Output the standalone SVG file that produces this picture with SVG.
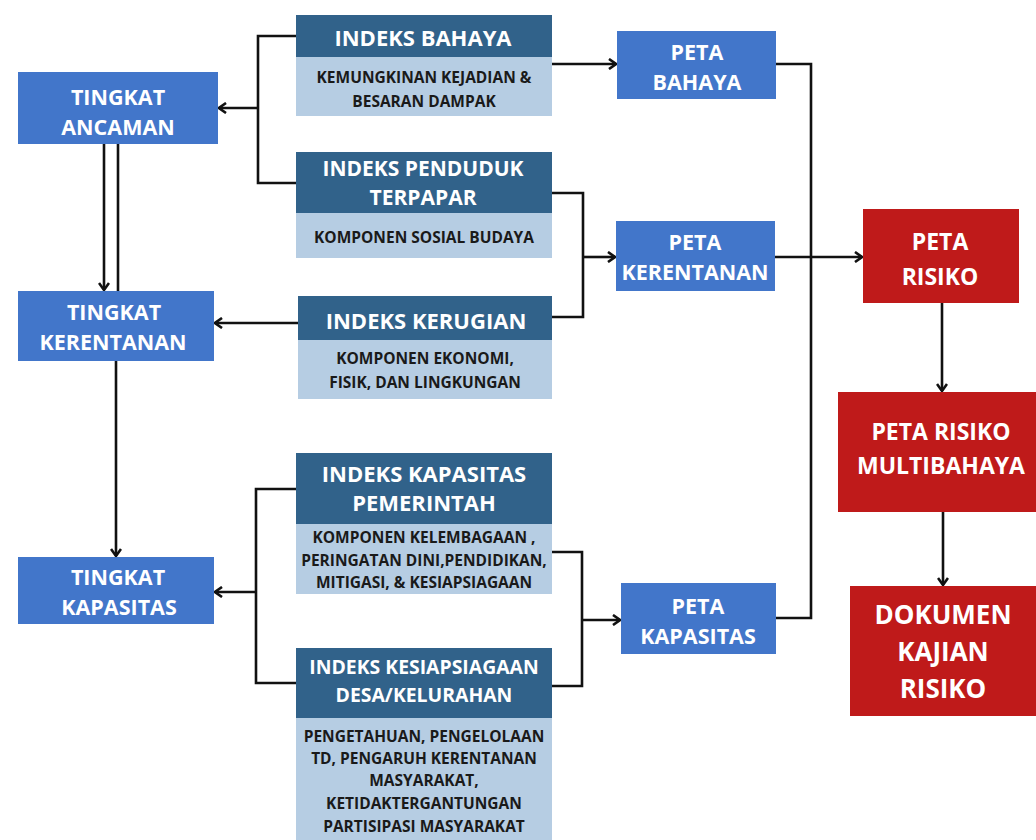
<svg xmlns="http://www.w3.org/2000/svg" width="1036" height="840" viewBox="0 0 1036 840">
<defs>
<marker id="ah" viewBox="0 0 10 12" refX="9" refY="6" markerWidth="10" markerHeight="12" markerUnits="userSpaceOnUse" orient="auto">
<path d="M2,1 L9,6 L2,11" fill="none" stroke="#111" stroke-width="2.6"/>
</marker>
<style>
text{font-family:"Open Sans","Liberation Sans",sans-serif;font-weight:700;text-anchor:middle;dominant-baseline:central}
.blue{fill:#4276CA}
.hdr{fill:#31628A}
.body{fill:#B6CDE3}
.red{fill:#BF1A1A}
.w{fill:#fff}
.t1{font-size:21.5px}
.th{font-size:22px}
.tr{font-size:23px}
.b{fill:#1a1a1a;font-size:15.5px}
.c{fill:none;stroke:#111;stroke-width:2.6}
</style>
</defs>
<rect width="1036" height="840" fill="#fff"/>
<g id="connectors">
<path class="c" d="M296,36 H258 V183 H296"/>
<path class="c" d="M258,108 H219" marker-end="url(#ah)"/>
<path class="c" d="M104,144 V290" marker-end="url(#ah)"/>
<path class="c" d="M118,144 V291"/>
<path class="c" d="M298,323 H215" marker-end="url(#ah)"/>
<path class="c" d="M116,361 V556" marker-end="url(#ah)"/>
<path class="c" d="M296,489 H256 V683 H296"/>
<path class="c" d="M256,592 H215" marker-end="url(#ah)"/>
<path class="c" d="M552,64 H616" marker-end="url(#ah)"/>
<path class="c" d="M552,193 H583 V317 H552"/>
<path class="c" d="M583,257 H615" marker-end="url(#ah)"/>
<path class="c" d="M552,552 H582 V686 H552"/>
<path class="c" d="M582,620 H620" marker-end="url(#ah)"/>
<path class="c" d="M776,64 H811 V618 H776"/>
<path class="c" d="M775,257 H862" marker-end="url(#ah)"/>
<path class="c" d="M942,303 V391" marker-end="url(#ah)"/>
<path class="c" d="M943,512 V585" marker-end="url(#ah)"/>
</g>
<g id="tingkat-ancaman">
<rect class="blue" x="18" y="72" width="200" height="72"/>
<text class="w t1" x="118" y="96">TINGKAT</text>
<text class="w t1" x="118" y="126">ANCAMAN</text>
</g>
<g id="tingkat-kerentanan">
<rect class="blue" x="18" y="291" width="196" height="70"/>
<text class="w t1" x="114" y="311">TINGKAT</text>
<text class="w t1" x="113" y="341">KERENTANAN</text>
</g>
<g id="tingkat-kapasitas">
<rect class="blue" x="18" y="557" width="196" height="67"/>
<text class="w t1" x="118" y="576">TINGKAT</text>
<text class="w t1" x="119" y="606">KAPASITAS</text>
</g>
<g id="indeks-bahaya">
<rect class="hdr" x="296" y="15" width="256" height="42"/>
<rect class="body" x="296" y="57" width="256" height="59"/>
<text class="w th" x="423" y="37">INDEKS BAHAYA</text>
<text class="b" x="424" y="77">KEMUNGKINAN KEJADIAN &amp;</text>
<text class="b" x="424" y="101">BESARAN DAMPAK</text>
</g>
<g id="indeks-penduduk">
<rect class="hdr" x="296" y="152" width="256" height="61"/>
<rect class="body" x="296" y="213" width="256" height="45"/>
<text class="w" style="font-size:21px" x="423" y="168">INDEKS PENDUDUK</text>
<text class="w" style="font-size:21px" x="423" y="197">TERPAPAR</text>
<text class="b" x="424" y="237">KOMPONEN SOSIAL BUDAYA</text>
</g>
<g id="indeks-kerugian">
<rect class="hdr" x="298" y="296" width="254" height="44"/>
<rect class="body" x="298" y="340" width="254" height="59"/>
<text class="w th" x="426" y="320">INDEKS KERUGIAN</text>
<text class="b" x="425" y="358">KOMPONEN EKONOMI,</text>
<text class="b" x="425" y="382">FISIK, DAN LINGKUNGAN</text>
</g>
<g id="indeks-kapasitas">
<rect class="hdr" x="296" y="453" width="256" height="71"/>
<rect class="body" x="296" y="524" width="256" height="70"/>
<text class="w th" x="424" y="473">INDEKS KAPASITAS</text>
<text class="w th" x="424" y="502">PEMERINTAH</text>
<text class="b" x="424" y="537">KOMPONEN KELEMBAGAAN ,</text>
<text class="b" x="424" y="560">PERINGATAN DINI,PENDIDIKAN,</text>
<text class="b" x="424" y="582">MITIGASI, &amp; KESIAPSIAGAAN</text>
</g>
<g id="indeks-kesiapsiagaan">
<rect class="hdr" x="296" y="648" width="256" height="70"/>
<rect class="body" x="296" y="718" width="256" height="122"/>
<text class="w" style="font-size:19.4px" x="424" y="666">INDEKS KESIAPSIAGAAN</text>
<text class="w" style="font-size:19.4px" x="424" y="694">DESA/KELURAHAN</text>
<text class="b" x="424" y="736">PENGETAHUAN, PENGELOLAAN</text>
<text class="b" x="424" y="758">TD, PENGARUH KERENTANAN</text>
<text class="b" x="424" y="780">MASYARAKAT,</text>
<text class="b" x="424" y="803">KETIDAKTERGANTUNGAN</text>
<text class="b" x="424" y="826">PARTISIPASI MASYARAKAT</text>
</g>
<g id="peta-bahaya">
<rect class="blue" x="617" y="31" width="159" height="68"/>
<text class="w t1" x="697" y="51">PETA</text>
<text class="w t1" x="697" y="81">BAHAYA</text>
</g>
<g id="peta-kerentanan">
<rect class="blue" x="616" y="221" width="159" height="70"/>
<text class="w t1" x="695" y="241">PETA</text>
<text class="w t1" x="695" y="271">KERENTANAN</text>
</g>
<g id="peta-kapasitas">
<rect class="blue" x="621" y="583" width="155" height="71"/>
<text class="w t1" x="698" y="605">PETA</text>
<text class="w t1" x="698" y="635">KAPASITAS</text>
</g>
<g id="peta-risiko">
<rect class="red" x="863" y="209" width="156" height="94"/>
<text class="w tr" x="940" y="241">PETA</text>
<text class="w tr" x="940" y="276">RISIKO</text>
</g>
<g id="peta-risiko-multibahaya">
<rect class="red" x="838" y="392" width="198" height="120"/>
<text class="w tr" x="941" y="431">PETA RISIKO</text>
<text class="w tr" x="941" y="465">MULTIBAHAYA</text>
</g>
<g id="dokumen-kajian-risiko">
<rect class="red" x="850" y="586" width="186" height="130"/>
<text class="w" style="font-size:26px" x="943" y="614">DOKUMEN</text>
<text class="w" style="font-size:26px" x="943" y="651">KAJIAN</text>
<text class="w" style="font-size:26px" x="943" y="688">RISIKO</text>
</g>
</svg>
